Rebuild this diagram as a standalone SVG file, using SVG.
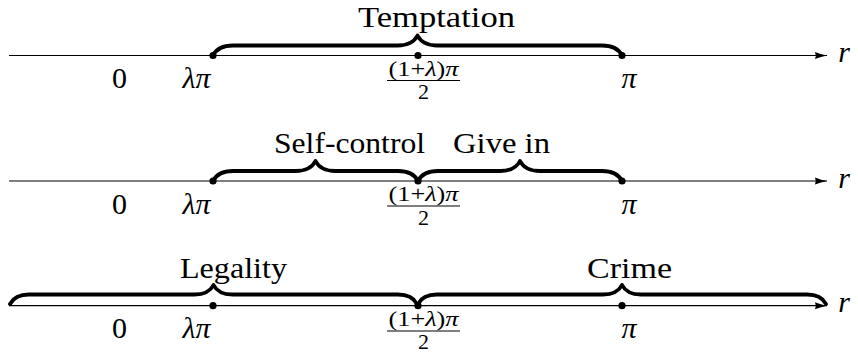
<svg xmlns="http://www.w3.org/2000/svg" width="858" height="356" viewBox="0 0 858 356">
<defs>
<style>
.axis{stroke:#000;stroke-width:1.2;fill:none}
.brace{stroke:#000;stroke-width:3.8;fill:none;stroke-linecap:round;stroke-linejoin:round}
.dot{fill:#000}
text{font-family:'Liberation Serif','Times New Roman',serif;fill:#000}
.t{font-size:30px}
.m{font-size:30px;font-style:italic}
.s{font-size:22px}
.it{font-style:italic}
.bar{stroke:#000;stroke-width:1.2}
</style>
<marker id="arr" markerWidth="14" markerHeight="10" refX="12" refY="4" orient="auto" markerUnits="userSpaceOnUse">
<path d="M0,0.5 Q6,3 12,4 Q6,5 0,7.5 Q1.5,4 0,0.5 Z" fill="#000"/>
</marker>
</defs>
<rect width="858" height="356" fill="#fff"/>

<g id="connectors">
<line class="axis" x1="9" y1="55.5" x2="827" y2="55.5" marker-end="url(#arr)"/>
<line class="axis" x1="9" y1="181" x2="827" y2="181" marker-end="url(#arr)"/>
<line class="axis" x1="9" y1="305.7" x2="827" y2="305.7" marker-end="url(#arr)"/>
<path class="brace" d="M213,55.5 C216,49.5 223,45.5 233,45.5 L397.5,45.5 C407.5,45.5 414.5,41.5 417.5,35.5 C420.5,41.5 427.5,45.5 437.5,45.5 L602,45.5 C612,45.5 619,49.5 622,55.5"/>
<path class="brace" d="M213,181 C216,175 223,171 233,171 L295.5,171 C305.5,171 312.5,167 315.5,161 C318.5,167 325.5,171 335.5,171 L398,171 C408,171 415,175 418,181"/>
<path class="brace" d="M418,181 C421,175 428,171 438,171 L500,171 C510,171 517,167 520,161 C523,167 530,171 540,171 L602,171 C612,171 619,175 622,181"/>
<path class="brace" d="M10,304 C13,298.3 20,294.5 29,294.5 L194.5,294.5 C204,294.5 210.6,290.7 213.5,285 C216.4,290.7 223,294.5 232.5,294.5 L398,294.5 C407.5,294.5 414.1,298.3 417,304"/>
<path class="brace" d="M418,304 C420.9,298.3 427.5,294.5 437,294.5 L603,294.5 C612.5,294.5 619.1,290.7 622,285 C624.9,290.7 631.5,294.5 641,294.5 L807,294.5 C816.5,294.5 823.1,298.3 826,304"/>
</g>

<g id="row1">
<circle class="dot" cx="213" cy="55.5" r="3.6"/>
<circle class="dot" cx="418" cy="55.5" r="3.6"/>
<circle class="dot" cx="622" cy="55.5" r="3.6"/>
<text class="t" x="358" y="27" textLength="157" lengthAdjust="spacingAndGlyphs">Temptation</text>
<text class="t" x="119.5" y="88" text-anchor="middle">0</text>
<text class="m" x="196.5" y="88" text-anchor="middle">λπ</text>
<text class="s" x="423.5" y="75.5" text-anchor="middle" textLength="70" lengthAdjust="spacingAndGlyphs">(1+<tspan class="it">λ</tspan>)<tspan class="it">π</tspan></text>
<line class="bar" x1="387" y1="80.5" x2="460" y2="80.5"/>
<text class="s" x="423.5" y="99" text-anchor="middle">2</text>
<text class="m" x="629" y="88" text-anchor="middle">π</text>
<text class="m" x="844" y="62" text-anchor="middle">r</text>
</g>

<g id="row2">
<circle class="dot" cx="213" cy="181" r="3.6"/>
<circle class="dot" cx="418" cy="181" r="3.6"/>
<circle class="dot" cx="622" cy="181" r="3.6"/>
<text class="t" x="274" y="153" textLength="151" lengthAdjust="spacingAndGlyphs">Self-control</text>
<text class="t" x="453" y="153" textLength="97" lengthAdjust="spacingAndGlyphs">Give in</text>
<text class="t" x="119.5" y="213.5" text-anchor="middle">0</text>
<text class="m" x="196.5" y="213.5" text-anchor="middle">λπ</text>
<text class="s" x="423.5" y="201" text-anchor="middle" textLength="70" lengthAdjust="spacingAndGlyphs">(1+<tspan class="it">λ</tspan>)<tspan class="it">π</tspan></text>
<line class="bar" x1="387" y1="206" x2="460" y2="206"/>
<text class="s" x="423.5" y="224.5" text-anchor="middle">2</text>
<text class="m" x="629" y="213.5" text-anchor="middle">π</text>
<text class="m" x="844" y="187.5" text-anchor="middle">r</text>
</g>

<g id="row3">
<circle class="dot" cx="213" cy="305.7" r="3.6"/>
<circle class="dot" cx="418" cy="305.7" r="3.6"/>
<circle class="dot" cx="622" cy="305.7" r="3.6"/>
<text class="t" x="180" y="278" textLength="107" lengthAdjust="spacingAndGlyphs">Legality</text>
<text class="t" x="587" y="278" textLength="85" lengthAdjust="spacingAndGlyphs">Crime</text>
<text class="t" x="119.5" y="338" text-anchor="middle">0</text>
<text class="m" x="196.5" y="338" text-anchor="middle">λπ</text>
<text class="s" x="423.5" y="325.5" text-anchor="middle" textLength="70" lengthAdjust="spacingAndGlyphs">(1+<tspan class="it">λ</tspan>)<tspan class="it">π</tspan></text>
<line class="bar" x1="387" y1="331" x2="460" y2="331"/>
<text class="s" x="423.5" y="349" text-anchor="middle">2</text>
<text class="m" x="629" y="338" text-anchor="middle">π</text>
<text class="m" x="844" y="312" text-anchor="middle">r</text>
</g>
</svg>
